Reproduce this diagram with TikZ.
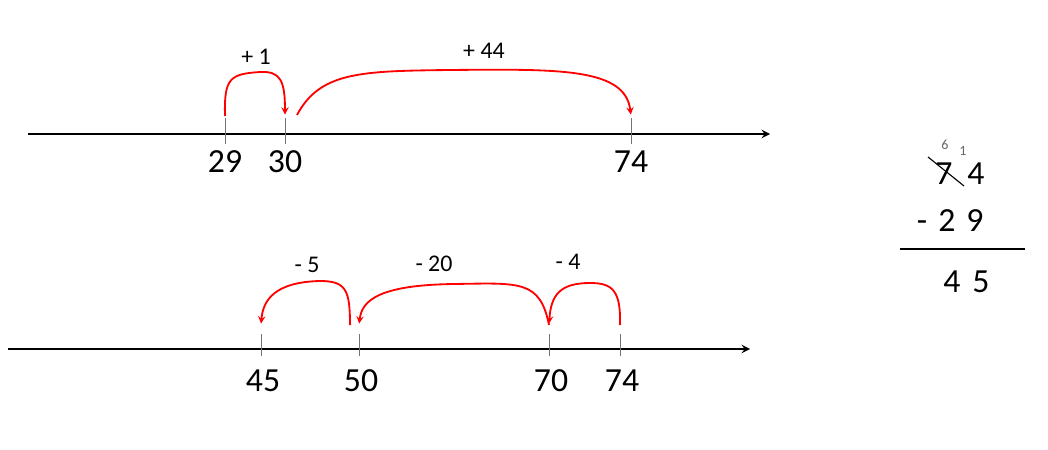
\documentclass[tikz,border=0pt]{standalone}
\usepackage{fontspec}
\setmainfont{Carlito}
\usetikzlibrary{positioning}

\def\topaxis{134}
\def\botaxis{349}

\begin{document}
\begin{tikzpicture}[x=0.25mm,y=-0.25mm,>=stealth]
    \tikzstyle{axis}=[->,line width=1.6pt,black]
    \tikzstyle{tick}=[line width=0.7pt,black!55]
    \tikzstyle{num}=[inner sep=0pt,font=\fontsize{24}{28}\selectfont]
    \tikzstyle{digit}=[num,anchor=base]
    \tikzstyle{lbl}=[inner sep=0pt,font=\fontsize{17}{20}\selectfont]
    \tikzstyle{jump}=[->,red,line width=1.3pt,shorten >=1pt]
    \tikzstyle{carry}=[inner sep=0pt,black!60,font=\fontsize{10}{12}\selectfont]
    \useasboundingbox (0,0) rectangle (1048,450);

    % Top number line
    \draw[axis] (28,\topaxis) -- (770,\topaxis);
    \foreach \x / \n in {225/29,285/30,631/74}
    {
        \draw[tick] (\x,118) -- (\x,144);
        \coordinate (ta-\n) at (\x,116);
        \node[num] (a-\n) at (\x,162) {\n};
    }
    \coordinate (sa-30) at (297,115);

    % Jumps up
    \draw[jump] (ta-29) .. controls (224,78) and (230,74) .. (260,72)
        .. controls (280,71) and (285,80) .. (ta-30);
    \draw[jump] (sa-30) .. controls (320,72) and (360,71) .. (450,70)
        .. controls (560,69) and (625,68) .. (ta-74);
    \node[lbl] (p1) at (256,57) {+ 1};
    \node[lbl] (p44) at (484,51) {+ 44};

    % Bottom number line
    \draw[axis] (8,\botaxis) -- (750,\botaxis);
    \foreach \x / \n in {261/45,359/50,549/70,620/74}
    {
        \draw[tick] (\x,334) -- (\x,356);
        \coordinate (tb-\n) at (\x,325);
        \node[num] (b-\n) at (\x+2,381) {\n};
    }
    \coordinate (sb-50) at (350,325);

    % Jumps down
    \draw[jump] (tb-74) .. controls (621,290) and (612,283) .. (590,283)
        .. controls (560,283) and (551,295) .. (tb-70);
    \draw[jump] (tb-70) .. controls (540,280) and (520,283) .. (454,284)
        .. controls (380,285) and (362,300) .. (tb-50);
    \draw[jump] (sb-50) .. controls (350,290) and (346,281) .. (320,281)
        .. controls (275,282) and (263,300) .. (tb-45);
    \node[lbl] (m5) at (307,265) {- 5};
    \node[lbl] (m20) at (434,264) {- 20};
    \node[lbl] (m4) at (568,262) {- 4};

    % Column subtraction
    \node[digit] (d7) at (944,184) {7};
    \node[digit] (d4) at (976,184) {4};
    \draw[line width=0.8pt] (928,157) -- (964,186);
    \node[carry] (c6) at (945,145) {6};
    \node[carry] (c1) at (963,151) {1};
    \node[digit] (minus) at (922,231) {-};
    \node[digit] (s2) at (947,231) {2};
    \node[digit] (s9) at (975,231) {9};
    \draw[line width=1.1pt] (900,249) -- (1025,249);
    \node[digit] (r4) at (952,292) {4};
    \node[digit] (r5) at (981,292) {5};
\end{tikzpicture}
\end{document}
